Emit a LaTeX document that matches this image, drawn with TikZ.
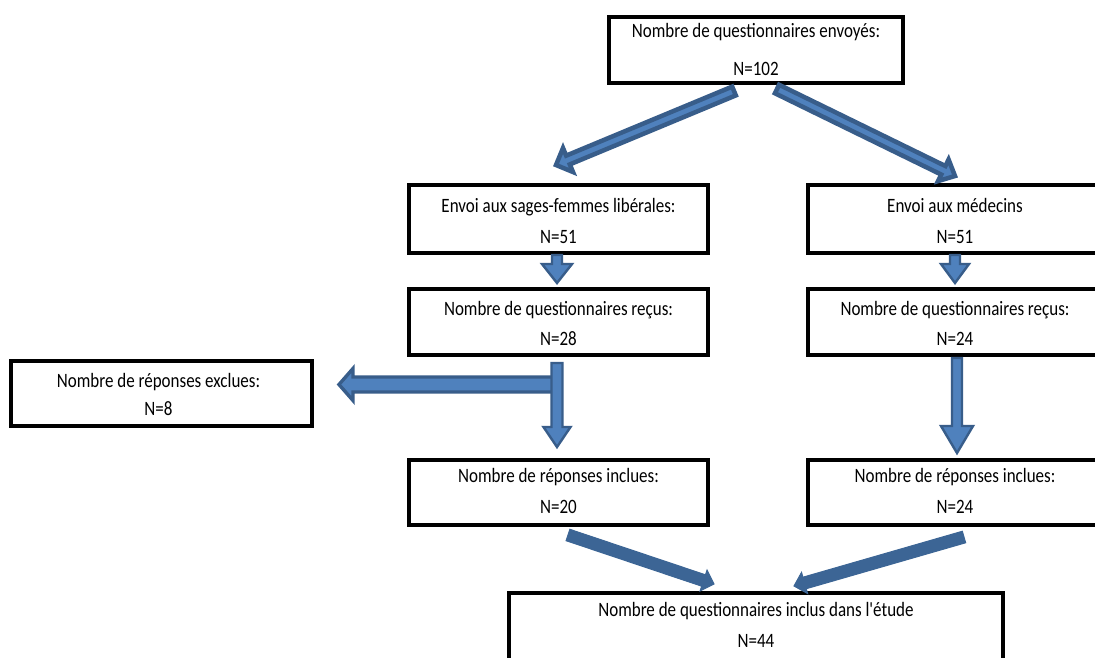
\documentclass[tikz,border=0pt]{standalone}
\usepackage{fontspec}
\setmainfont{Carlito}
\usetikzlibrary{calc}
\definecolor{arrfill}{HTML}{4F81BD}
\definecolor{arrline}{HTML}{385D8A}
\definecolor{arrdark}{HTML}{3C6595}
\newcommand\vtxt[1]{\scalebox{1}[1.2]{#1}}
% #1 style, #2 from, #3 to, #4 shaft half width, #5 head half width, #6 head length
\newcommand\blockarr[6][]{%
  \path ($(#3)!#6!(#2)$) coordinate (hb);
  \draw[#1] ($(#2)!#4!90:(#3)$) -- ($(hb)!#4!90:(#3)$) -- ($(hb)!#5!90:(#3)$) -- (#3)
    -- ($(hb)!#5!-90:(#3)$) -- ($(hb)!#4!-90:(#3)$) -- ($(#2)!#4!-90:(#3)$) -- cycle;}
\tikzset{
  box/.style={draw=black, line width=3.5pt, fill=white, inner sep=0pt, rectangle},
  txt/.style={font=\fontsize{17}{20}\selectfont, anchor=base, inner sep=0pt, text=black},
  diarr/.style={fill=arrfill, draw=arrline, line width=4.5pt, line join=miter},
  barr/.style={fill=arrfill, draw=arrline, line width=3.4pt, line join=miter},
  sarr/.style={fill=arrfill, draw=arrline, line width=2.4pt, line join=miter},
  darr/.style={fill=arrdark, draw=arrdark, line width=1pt, line join=miter},
}
\begin{document}
\begin{tikzpicture}[x=1pt,y=-1pt]
\useasboundingbox (0,0) rectangle (1095,657);
\clip (0,0) rectangle (1095,657);
\fill[white] (0,0) rectangle (1095,657);

% boxes
\node[box, minimum width=294pt, minimum height=66pt] (top) at (756,50) {};
\node[box, minimum width=299pt, minimum height=68pt] (sf) at (558.5,219) {};
\node[box, minimum width=300pt, minimum height=68pt] (med) at (958,219) {};
\node[box, minimum width=299pt, minimum height=66pt] (recL) at (558.5,322) {};
\node[box, minimum width=300pt, minimum height=66pt] (recR) at (958,322) {};
\node[box, minimum width=301pt, minimum height=65pt] (excl) at (161.5,393.5) {};
\node[box, minimum width=299pt, minimum height=65pt] (incL) at (558.5,492.5) {};
\node[box, minimum width=300pt, minimum height=65pt] (incR) at (958,492.5) {};
\node[box, minimum width=494pt, minimum height=107pt] (final) at (756,646.5) {};

% texts
\node[txt] (topA) at (756,37) {\vtxt{Nombre de questionnaires envoyés:}};
\node[txt] (topB) at (756,75) {\vtxt{N=102}};
\node[txt] (sfA) at (558.5,212) {\vtxt{Envoi aux sages-femmes libérales:}};
\node[txt] (sfB) at (558.5,243) {\vtxt{N=51}};
\node[txt] (medA) at (955,212) {\vtxt{Envoi aux médecins}};
\node[txt] (medB) at (955,243) {\vtxt{N=51}};
\node[txt] (recLA) at (558.5,315) {\vtxt{Nombre de questionnaires reçus:}};
\node[txt] (recLB) at (558.5,345) {\vtxt{N=28}};
\node[txt] (recRA) at (955,315) {\vtxt{Nombre de questionnaires reçus:}};
\node[txt] (recRB) at (955,345) {\vtxt{N=24}};
\node[txt] (exclA) at (158.5,387) {\vtxt{Nombre de réponses exclues:}};
\node[txt] (exclB) at (158.5,415) {\vtxt{N=8}};
\node[txt] (incLA) at (558.5,482) {\vtxt{Nombre de réponses inclues:}};
\node[txt] (incLB) at (558.5,513) {\vtxt{N=20}};
\node[txt] (incRA) at (955,482) {\vtxt{Nombre de réponses inclues:}};
\node[txt] (incRB) at (955,513) {\vtxt{N=24}};
\node[txt] (finA) at (756,616) {\vtxt{Nombre de questionnaires inclus dans l\textquotesingle étude}};
\node[txt] (finB) at (756,647) {\vtxt{N=44}};

% arrow end points
\coordinate (t1s) at (734,91);   \coordinate (t1e) at (556,165);
\coordinate (t2s) at (777,89);   \coordinate (t2e) at (955,176);
\coordinate (s1s) at (557,255);  \coordinate (s1e) at (557,283);
\coordinate (s2s) at (955,255);  \coordinate (s2e) at (955,283);
\coordinate (hs)  at (556,384.5);\coordinate (he)  at (339,384.5);
\coordinate (v1s) at (557,363);  \coordinate (v1e) at (557,447);
\coordinate (v2s) at (957,358);  \coordinate (v2e) at (957,453);
\coordinate (b1s) at (568,535);  \coordinate (b1e) at (714,584);
\coordinate (b2s) at (964,537);  \coordinate (b2e) at (794,586);

% arrows
\blockarr[diarr]{t1s}{t1e}{4.75pt}{13pt}{13pt}
\blockarr[diarr]{t2s}{t2e}{4.75pt}{12pt}{13pt}
\blockarr[sarr]{s1s}{s1e}{5pt}{15pt}{19pt}
\blockarr[sarr]{s2s}{s2e}{5pt}{14pt}{19pt}
\blockarr[barr]{hs}{he}{7.5pt}{16pt}{14pt}
\blockarr[sarr]{v1s}{v1e}{5.5pt}{13.5pt}{20pt}
\blockarr[sarr]{v2s}{v2e}{5pt}{16pt}{27pt}
\blockarr[darr]{b1s}{b1e}{6pt}{11pt}{11pt}
\blockarr[darr]{b2s}{b2e}{6pt}{11pt}{11pt}
\end{tikzpicture}
\end{document}
